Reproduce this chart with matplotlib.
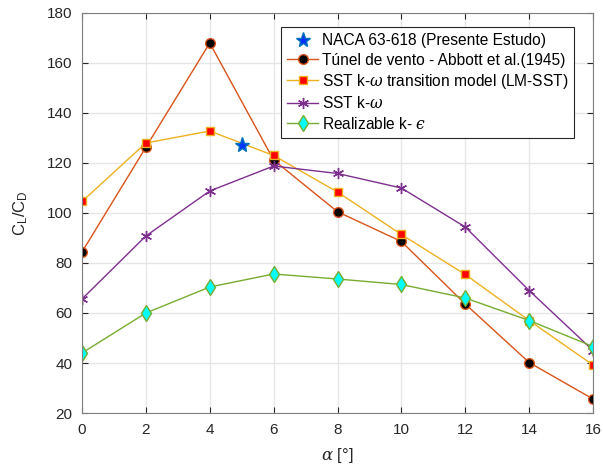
import numpy as np
import matplotlib.pyplot as plt

plt.rcParams['font.family'] = ['Liberation Sans', 'DejaVu Sans']
plt.rcParams['mathtext.fontset'] = 'custom'
plt.rcParams['mathtext.rm'] = 'Liberation Sans'
plt.rcParams['mathtext.it'] = 'DejaVu Serif:italic'

alpha = [0, 2, 4, 6, 8, 10, 12, 14, 16]
abbott = [84.4, 126.3, 168, 121.2, 100.5, 88.6, 63.6, 40.2, 25.6]
lm_sst = [104.6, 128, 132.8, 123, 108.4, 91.4, 75.4, 57, 39.2]
sst = [65.6, 90.8, 108.8, 118.8, 115.8, 110, 94.4, 69, 45]
realiz = [44, 60, 70.4, 75.6, 73.6, 71.4, 66, 57, 46.6]
naca_x = [5]
naca_y = [127.2]

fig = plt.figure(figsize=(6.03, 4.73), dpi=100)
ax = fig.add_axes([82/603, 60/473, 511/603, 400/473])

ax.plot(naca_x, naca_y, ls='none', marker='*', ms=11, mfc='#0033ff', mec='#0072BD',
        label='NACA 63-618 (Presente Estudo)', zorder=5)
ax.plot(alpha, abbott, color='#D95319', lw=1, marker='o', ms=7, mfc='black', mec='#D95319',
        label='Túnel de vento - Abbott et al.(1945)')
ax.plot(alpha, lm_sst, color='#EDB120', lw=1, marker='s', ms=6, mfc='red', mec='#EDB120',
        label='SST k-$\\omega$ transition model (LM-SST)')
ax.plot(alpha, sst, color='#7E2F8E', lw=1, marker=(6, 2, 0), ms=8, mec='#7E2F8E',
        label='SST k-$\\omega$')
ax.plot(alpha, realiz, color='#77AC30', lw=1, marker='d', ms=8, mfc='cyan', mec='#77AC30',
        label='Realizable k- $\\it{ϵ}$')

ax.set_xlim(0, 16)
ax.set_ylim(20, 180)
ax.set_xticks(np.arange(0, 17, 2))
ax.set_yticks(np.arange(20, 181, 20))
ax.grid(True, color='#e6e6e6', lw=1)
ax.set_axisbelow(True)
ax.tick_params(direction='in', labelsize=11, colors='#262626', length=4, top=True, right=True)
ax.tick_params(axis='x', pad=7)
ax.tick_params(axis='y', pad=7)
for s in ax.spines.values():
    s.set_color('#808080')
ax.set_xlabel('$\\alpha$ [°]', fontsize=12, color='#262626', labelpad=7)
ax.set_ylabel('C$_\\mathregular{L}$/C$_\\mathregular{D}$', fontsize=12, color='#262626', labelpad=12)

leg = ax.legend(loc='upper right', bbox_to_anchor=(0.963, 0.965), fontsize=11.2, fancybox=False,
                framealpha=1, edgecolor='#262626', handlelength=2.0, borderpad=0.4,
                labelspacing=0.28, handletextpad=0.2, borderaxespad=0)
leg.get_frame().set_linewidth(0.8)

fig.savefig('out.png', dpi=100)
